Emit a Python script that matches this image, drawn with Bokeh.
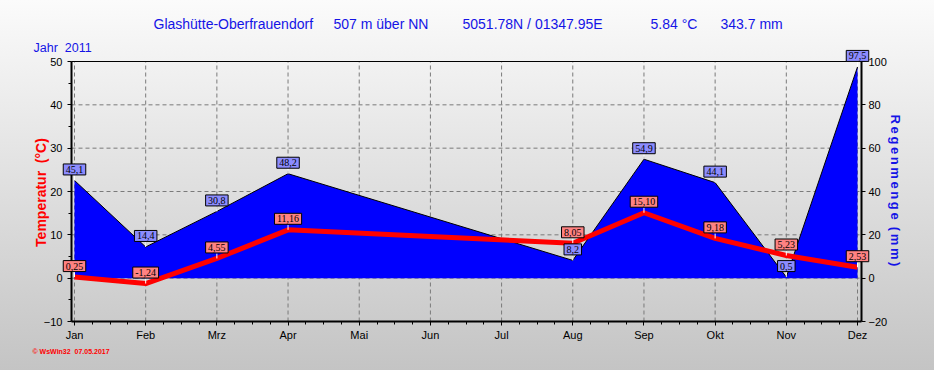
import math
from bokeh.plotting import figure
from bokeh.models import (Range1d, LinearAxis, FixedTicker, Label, LabelSet, ColumnDataSource)
from bokeh.embed import file_html
from bokeh.resources import INLINE

# ---------------- data ----------------
months = ["Jan", "Feb", "Mrz", "Apr", "Mai", "Jun", "Jul", "Aug", "Sep", "Okt", "Nov", "Dez"]
obs_month = [0, 1, 2, 3, 7, 8, 9, 10, 11]          # months with data
temp = [0.25, -1.24, 4.55, 11.16, 8.05, 15.10, 9.18, 5.23, 2.53]
rain = [45.1, 14.4, 30.8, 48.2, 8.2, 54.9, 44.1, 0.5, 97.5]
temp_ticks = [-10, 0, 10, 20, 30, 40, 50]
rain_ticks = [-20, 0, 20, 40, 60, 80, 100]

NB = "\u00a0"
header_parts = ["Glashütte-Oberfrauendorf", "507 m über NN", "5051.78N / 01347.95E",
                "5.84 °C", "343.7 mm"]
year_txt = "Jahr" + NB + NB + "2011"
footer_txt = "© WsWin32" + NB + NB + "07.05.2017"
temp_label = "Temperatur" + NB + NB + "(°C)"
rain_label = "\u2009".join("Regenmenge") + NB + NB + "(\u2009m\u2009m\u2009)"

# ---------------- layout (pixels of the canvas) ----------------
W, H = 934, 370
PX_JAN, PX_DEZ = 74, 857          # month positions
PX_LEFT, PX_RIGHT = 71, 861       # chart frame edges
PY_TOP, PY_BOT = 61, 321          # chart frame edges (temperature 50 / -10)
T_TOP, T_BOT = temp_ticks[-1], temp_ticks[0]
R_SCALE = (rain_ticks[-1] - rain_ticks[0]) / (T_TOP - T_BOT)

DX = (PX_DEZ - PX_JAN) / 11.0
DY = (PY_BOT - PY_TOP) / float(T_TOP - T_BOT)
def px_to_x(px):
    return (px - PX_JAN) / DX
def py_to_t(py):
    return T_TOP - (py - PY_TOP) / DY

x_lo, x_hi = px_to_x(PX_LEFT), px_to_x(PX_RIGHT)

p = figure(width=W, height=H, output_backend="svg", toolbar_location=None, title=None,
           x_range=Range1d(px_to_x(0), px_to_x(W)), y_range=Range1d(py_to_t(H), py_to_t(0)),
           x_axis_location=None, y_axis_location=None,
           min_border_left=0, min_border_right=0, min_border_top=0, min_border_bottom=0)
p.extra_y_ranges = {"rain": Range1d(py_to_t(H) * R_SCALE, py_to_t(0) * R_SCALE)}
p.styles = {"background": "linear-gradient(#fbfbfb, #c4c4c4)"}
p.border_fill_alpha = 0
p.background_fill_alpha = 0
p.outline_line_color = None
p.xgrid.visible = False
p.ygrid.visible = False

blue = "#1414e6"

# ---------------- grid (dashed) ----------------
grid = dict(line_color="#7a7a7a", line_dash="4 3", line_width=1)
p.segment(x0=list(range(12)), y0=[T_BOT] * 12, x1=list(range(12)), y1=[T_TOP] * 12, **grid)
p.segment(x0=[x_lo] * 7, y0=temp_ticks, x1=[x_hi] * 7, y1=temp_ticks, **grid)

# ---------------- rain area ----------------
src_r = ColumnDataSource(dict(x=obs_month, y=rain,
                              lab=[NB + f"{v:.1f}".replace(".", ",") + NB for v in rain]))
p.varea(x="x", y1=0, y2="y", source=src_r, y_range_name="rain", fill_color="#0000ff")
p.line(x="x", y="y", source=src_r, y_range_name="rain", line_color="black", line_width=1)

# ---------------- temperature line ----------------
src_t = ColumnDataSource(dict(x=obs_month, y=temp,
                              lab=[NB + f"{v:.2f}".replace(".", ",") + NB for v in temp]))
p.line(x="x", y="y", source=src_t, line_color="#ff0000", line_width=5)

# top frame border
p.segment(x0=[x_lo], y0=[T_TOP], x1=[x_hi], y1=[T_TOP], line_color="black", line_width=1)

# ---------------- axes ----------------
def style(ax, tick_out=4, minor_out=3):
    ax.axis_line_width = 2
    ax.axis_line_color = "black"
    ax.major_tick_in = 0
    ax.major_tick_out = tick_out
    ax.minor_tick_in = 0
    ax.minor_tick_out = minor_out
    ax.major_label_text_font = "Liberation Sans"
    ax.major_label_text_font_size = "11px"
    ax.major_label_text_color = "black"

xaxis = LinearAxis(fixed_location=T_BOT, bounds=(x_lo, x_hi),
                   ticker=FixedTicker(ticks=list(range(12)),
                                      minor_ticks=[i + f for i in range(11) for f in (0.25, 0.5, 0.75)]),
                   major_label_overrides={i: m for i, m in enumerate(months)})
style(xaxis)
xaxis.major_label_standoff = 3
p.add_layout(xaxis, "below")

yaxis = LinearAxis(fixed_location=x_lo, bounds=(T_BOT, T_TOP),
                   ticker=FixedTicker(ticks=temp_ticks, minor_ticks=[t + 5 for t in temp_ticks[:-1]]))
style(yaxis)
yaxis.major_label_standoff = 5
p.add_layout(yaxis, "left")

raxis = LinearAxis(fixed_location=x_hi, y_range_name="rain",
                   bounds=(rain_ticks[0], rain_ticks[-1]),
                   ticker=FixedTicker(ticks=rain_ticks, minor_ticks=[]))
style(raxis)
raxis.major_label_standoff = 3
p.add_layout(raxis, "right")

# ---------------- small white pointers from label to point ----------------
stem_t = [v + 5 / DY for v in temp]
stem_r = [v + 10 / DY for v in rain]
p.segment(x0=obs_month, y0=temp, x1=obs_month, y1=stem_t, line_color="white", line_width=1)
p.segment(x0=obs_month, y0=rain, x1=obs_month, y1=stem_r, y_range_name="rain",
          line_color="white", line_width=1)

# ---------------- value labels ----------------
common = dict(x="x", y="y", text="lab", text_align="center", text_baseline="middle",
              y_offset=11, text_font="Liberation Sans", text_font_size="10px",
              text_line_height=1.4,
              text_color="black", border_line_color="black", border_line_width=1)
p.add_layout(LabelSet(source=src_r, y_range_name="rain", background_fill_color="#8c8cff", **common))
p.add_layout(LabelSet(source=src_t, background_fill_color="#ff8282", **common))

# ---------------- texts (canvas pixels, y measured from the bottom) ----------------
def text_at(txt, px, py, **kw):
    opts = dict(text_font="Liberation Sans", text_baseline="middle", text_align="left")
    opts.update(kw)
    p.add_layout(Label(x=px, y=H - py, x_units="screen", y_units="screen", text=txt, **opts))

for txt, px in zip(header_parts, [153, 333, 462, 650, 720]):
    text_at(txt, px, 23, text_font_size="14px", text_color=blue)
text_at(year_txt, 33, 47, text_font_size="12.5px", text_color=blue)
text_at(footer_txt, 32, 351, text_font_size="7px", text_font_style="bold", text_color="#ff0000")
text_at(temp_label, 40, 192, text_font_size="14px", text_font_style="bold", text_color="#ff0000",
        angle=math.pi / 2, text_align="center")
text_at(rain_label, 895, 190, text_font_size="13px", text_font_style="bold", text_color=blue,
        angle=-math.pi / 2, text_align="center")

open("out.html", "w").write(file_html(p, INLINE))
